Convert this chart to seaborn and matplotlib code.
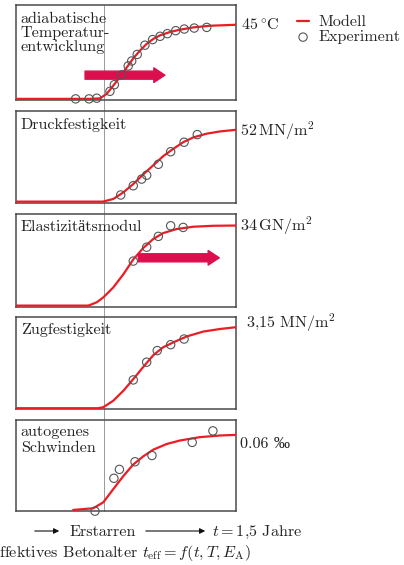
import matplotlib
matplotlib.use("Agg")
import matplotlib.pyplot as plt
import seaborn as sns
from matplotlib.lines import Line2D
from matplotlib.patches import FancyArrowPatch

# Effective concrete age on a 0-100 scale (left edge = casting, right edge = 1.5 years)
temp_model_age = [0, 33.6, 38.2, 41.2, 44.2, 47.3, 50.3, 53.3, 56.4, 59.4, 62.4, 65.5, 70.0, 74.5, 80.6, 88.2, 100]
temp_model_val = [0, 0, 0.3, 3.0, 8.0, 13.4, 19.0, 24.6, 29.4, 33.4, 36.4, 38.6, 40.6, 42.0, 43.4, 44.4, 45]
temp_exp_age = [27.1, 33.2, 36.7, 42.7, 44.7, 48.0, 51.0, 52.6, 55.1, 58.6, 62.1, 65.5, 68.8, 72.6, 76.5, 81.0, 86.7]
temp_exp_val = [0, 0, 0.4, 4.6, 8.6, 14.6, 20.0, 23.0, 27.0, 32.6, 36.0, 38.0, 39.6, 41.4, 42.4, 43.0, 43.4]

comp_model_age = [0, 39.5, 44.2, 48.8, 53.3, 57.9, 62.4, 66.9, 71.5, 76.0, 80.6, 86.7, 92.7, 100]
comp_model_val = [0, 0, 1.9, 6.7, 12.7, 19.8, 26.3, 32.9, 38.2, 43.0, 46.5, 49.2, 50.8, 52]
comp_exp_age = [47.6, 53.3, 57.1, 59.4, 64.7, 70.3, 76.4, 82.4]
comp_exp_val = [4.8, 11.5, 16.3, 19.1, 27.0, 36.1, 43.0, 48.5]

emod_model_age = [0, 32.9, 36.7, 39.7, 44.2, 48.8, 53.3, 57.9, 62.4, 66.9, 73.0, 80.6, 89.7, 100]
emod_model_val = [0, 0, 1.4, 3.5, 7.7, 13.3, 19.6, 24.5, 28.3, 30.8, 32.5, 33.5, 33.9, 34.0]
emod_exp_age = [53.3, 59.4, 64.7, 70.3, 76.0]
emod_exp_val = [18.9, 24.8, 29.4, 33.9, 33.2]

tens_model_age = [0, 37.4, 39.7, 44.2, 48.8, 53.3, 57.9, 62.4, 66.9, 71.5, 77.6, 85.1, 92.7, 100]
tens_model_val = [0, 0, 0.04, 0.29, 0.68, 1.13, 1.61, 2.06, 2.37, 2.56, 2.79, 2.98, 3.08, 3.15]
tens_exp_age = [53.3, 59.4, 64.2, 70.3, 76.4]
tens_exp_val = [1.10, 1.79, 2.24, 2.47, 2.69]

shr_model_age = [26.0, 35.1, 39.7, 44.2, 48.8, 53.3, 57.9, 62.4, 68.5, 74.5, 83.6, 92.7, 100]
shr_model_val = [0, 0.0013, 0.0061, 0.0166, 0.0271, 0.0363, 0.0429, 0.0482, 0.0527, 0.0555, 0.0582, 0.0595, 0.06]
shr_exp_age = [35.9, 44.5, 47.0, 54.1, 61.8, 80.1, 89.5]
shr_exp_val = [-0.001, 0.0253, 0.0324, 0.0385, 0.0435, 0.054, 0.0632]

panel_titles = ["adiabatische\nTemperatur-\nentwicklung", "Druckfestigkeit", "Elastizitätsmodul",
                "Zugfestigkeit", "autogenes\nSchwinden"]
final_values = [r"45$\,^{\circ}$C", r"52$\,$MN/m$^{2}$", r"34$\,$GN/m$^{2}$",
                r"3,15 MN/m$^{2}$", "0.06 ‰"]
series_names = ["Modell", "Experiment"]
setting_age = 39.8

RED = "#ec1c24"
ARROW = "#dc0f4e"
EDGE = "#555555"
FRAME = "#4a4a4a"
INK = "#222222"

sns.set_style("white")
plt.rcParams["font.family"] = ["cmr10", "Liberation Serif", "DejaVu Serif"]
plt.rcParams["mathtext.fontset"] = "cm"
plt.rcParams["mathtext.rm"] = "cmr10"
plt.rcParams["axes.unicode_minus"] = False
plt.rcParams["axes.formatter.use_mathtext"] = True
FS = 11.6

W, H = 404, 565
fig = plt.figure(figsize=(W / 100, H / 100), dpi=100)


def fx(x):
    return x / W


def fy(y):
    return 1 - y / H


# (box top, box bottom, y-axis top, model, experiment, last title baseline, line spacing, value x, value baseline)
layout = [
    (5, 100, 57.0, (temp_model_age, temp_model_val), (temp_exp_age, temp_exp_val), 50.7, 1.0, 241, 30),
    (111, 202.7, 65.6, (comp_model_age, comp_model_val), (comp_exp_age, comp_exp_val), 129.3, 1.0, 240, 136),
    (214, 306.7, 38.9, (emod_model_age, emod_model_val), (emod_exp_age, emod_exp_val), 231, 1.0, 240, 230.7),
    (317.3, 409.3, 3.535, (tens_model_age, tens_model_val), (tens_exp_age, tens_exp_val), 334.3, 1.0, 246, 327.3),
    (420, 511, 0.0719, (shr_model_age, shr_model_val), (shr_exp_age, shr_exp_val), 452.3, 1.25, 240, 447.7),
]

axes = []
for i, (top, bot, ymax, model, exp, tb, ls, vx, vb) in enumerate(layout):
    ax = fig.add_axes([fx(16), fy(bot), fx(236) - fx(16), fy(top) - fy(bot)])
    ax.set_facecolor("none")
    sns.lineplot(x=model[0], y=model[1], ax=ax, color=RED, linewidth=1.6,
                 estimator=None, sort=False, zorder=3, label=series_names[0])
    sns.scatterplot(x=exp[0], y=exp[1], ax=ax, s=36, marker="o", facecolors="none",
                    edgecolor=EDGE, linewidth=0.8, clip_on=False, zorder=4,
                    label=series_names[1])
    ax.set_xlim(0, 100)
    ax.set_ylim(-0.012 * ymax, ymax)
    ax.set_xticks([])
    ax.set_yticks([])
    ax.set_xlabel("")
    ax.set_ylabel("")
    for sp in ax.spines.values():
        sp.set_visible(True)
        sp.set_color(FRAME)
        sp.set_linewidth(1.1)
    if ax.get_legend() is not None:
        ax.get_legend().remove()
    fig.text(fx(20.7), fy(tb), panel_titles[i], fontsize=FS, va="baseline", ha="left",
             linespacing=ls, color=INK, zorder=5)
    fig.text(fx(vx), fy(vb), final_values[i], fontsize=FS, va="baseline", ha="left", color=INK)
    axes.append(ax)

# hardening progress arrows
arrow_style = "simple,head_length=0.8,head_width=1.05,tail_width=0.58"
axes[0].annotate("", xy=(67.7, 14.4), xytext=(31.4, 14.4),
                 arrowprops=dict(arrowstyle=arrow_style, mutation_scale=10, color=ARROW,
                                 shrinkA=0, shrinkB=0))
axes[2].annotate("", xy=(92.4, 20.3), xytext=(55.6, 20.3),
                 arrowprops=dict(arrowstyle=arrow_style, mutation_scale=10, color=ARROW,
                                 shrinkA=0, shrinkB=0))

# setting time marker running through all panels
x_set = fx(16) + (fx(236) - fx(16)) * setting_age / 100
fig.add_artist(Line2D([x_set, x_set], [fy(5), fy(511)], transform=fig.transFigure,
                      color="#9a9a9a", lw=0.7, zorder=-1))

# legend
handles, labels = axes[0].get_legend_handles_labels()
fig.legend(handles, labels, loc="upper left", bbox_to_anchor=(fx(297), fy(15)),
           frameon=False, fontsize=FS, handlelength=0.75, handletextpad=0.6,
           labelspacing=0.05, borderpad=0, borderaxespad=0)

# time axis annotation
for x0, x1 in [(32, 62), (143, 208)]:
    fig.add_artist(FancyArrowPatch((fx(x0), fy(531)), (fx(x1), fy(531)),
                                   transform=fig.transFigure, arrowstyle="-|>",
                                   mutation_scale=8, lw=0.8, color="#111111"))
fig.text(fx(70), fy(535.7), "Erstarren", fontsize=FS, va="baseline", color=INK)
fig.text(fx(212), fy(535.7), r"$t = 1{,}5$ Jahre", fontsize=FS, va="baseline", color=INK)
fig.text(fx(-7.5), fy(556.7), r"effektives Betonalter $t_{\mathrm{eff}} = f(t, T, E_{\mathrm{A}})$",
         fontsize=FS, va="baseline", color=INK)

fig.savefig("out.png", dpi=100)
